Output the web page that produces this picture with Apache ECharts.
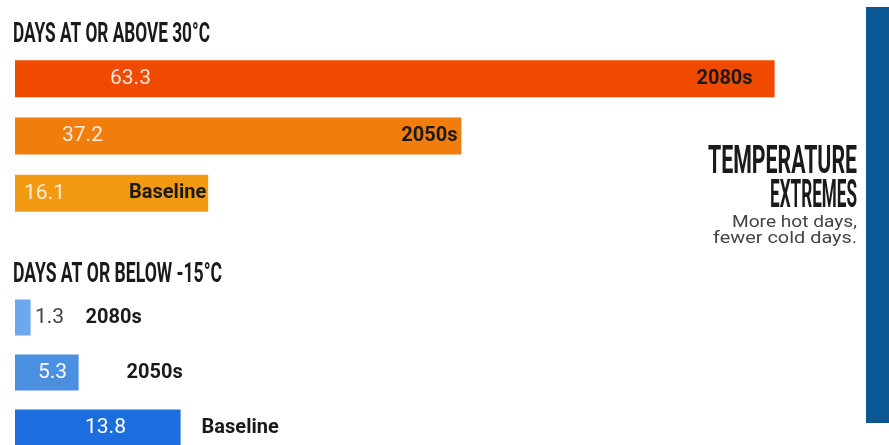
<!DOCTYPE html>
<html>
<head>
<meta charset="utf-8">
<script src="https://cdn.jsdelivr.net/npm/echarts@6/dist/echarts.min.js"></script>
<style>
  html, body { margin: 0; padding: 0; background: #ffffff; }
  #chart { width: 889px; height: 445px; }
</style>
</head>
<body>
<div id="chart"></div>
<script>
// Periods, top to bottom
const periods = ['2080s', '2050s', 'Baseline'];
// Days per year at or above 30°C
const hotDays = [63.3, 37.2, 16.1];
// Days per year at or below -15°C
const coldDays = [1.3, 5.3, 13.8];

const hotColors = ['#ef4a00', '#f07d0c', '#f29b12'];
const coldColors = ['#6ca8ee', '#4b8fe0', '#1c6edf'];

// value label x-position inside each bar (px from the bar's left edge)
const hotValueX = [95, 47, 9];
const coldValueX = [20, 23, 70];
const coldValueColor = ['#444444', '#ffffff', '#ffffff'];
// inset of the period name from the end of each hot bar
const hotNameInset = [22, 4, 2];
// gap between bar end and period name for the short cold bars
const coldNameGap = [55, 48, 21];

const chart = echarts.init(document.getElementById('chart'), null, { renderer: 'canvas' });

// measure text so condensed headline type can be squeezed to a set width
const measureCtx = document.createElement('canvas').getContext('2d');
function textWidth(text, font) {
  measureCtx.font = font;
  return measureCtx.measureText(text).width;
}

// headline in a narrow display style: bold Roboto compressed horizontally
function headline(text, x, y, size, width, align) {
  const w = textWidth(text, 'bold ' + size + 'px Roboto');
  return {
    type: 'text', x: x, y: y, scaleX: width / w, silent: true,
    style: {
      text: text, fill: '#1a1a1a', font: 'bold ' + size + 'px Roboto',
      align: align || 'left', verticalAlign: 'top'
    }
  };
}

function bodyLine(text, x, y, size, width) {
  const w = textWidth(text, size + 'px Roboto');
  return {
    type: 'text', x: x, y: y, scaleX: width / w, silent: true,
    style: { text: text, fill: '#444444', font: size + 'px Roboto', align: 'right', verticalAlign: 'top' }
  };
}

const valueFont = { fontFamily: 'Roboto', fontSize: 21, fontWeight: 'normal' };
const nameFont = { fontFamily: 'Roboto', fontSize: 20, fontWeight: 'bold', color: '#1a1a1a' };

function valueItems(values, colors, xs, labelColors) {
  return values.map((v, i) => ({
    value: v,
    itemStyle: { color: colors[i] },
    label: Object.assign({
      show: true,
      position: [xs[i], '50%'],
      align: 'left',
      verticalAlign: 'middle',
      color: labelColors ? labelColors[i] : 'rgba(255,255,255,0.85)',
      formatter: '{c}'
    }, valueFont)
  }));
}

const option = {
  backgroundColor: '#ffffff',
  animation: false,
  graphic: [
    { type: 'rect', shape: { x: 866, y: 7, width: 23, height: 416 }, style: { fill: '#0b5794' }, silent: true },
    headline('DAYS AT OR ABOVE 30°C', 13, 21, 28, 197, 'left'),
    headline('DAYS AT OR BELOW -15°C', 13, 261, 28, 209, 'left'),
    headline('TEMPERATURE', 857, 144, 38, 149, 'right'),
    headline('EXTREMES', 857, 178, 38, 87, 'right'),
    bodyLine('More hot days,', 857, 214, 17, 125),
    bodyLine('fewer cold days.', 857, 230, 17, 144)
  ],
  grid: [
    { left: 15, top: 50, width: 840, height: 172, outerBoundsMode: 'none' },
    { left: 15, top: 290, width: 840, height: 165, outerBoundsMode: 'none' }
  ],
  xAxis: [
    { type: 'value', gridIndex: 0, min: 0, max: 70, show: false },
    { type: 'value', gridIndex: 1, min: 0, max: 70, show: false }
  ],
  yAxis: [
    { type: 'category', gridIndex: 0, data: periods, inverse: true, show: false },
    { type: 'category', gridIndex: 1, data: periods, inverse: true, show: false }
  ],
  series: [
    {
      type: 'bar', xAxisIndex: 0, yAxisIndex: 0, barWidth: 37,
      data: valueItems(hotDays, hotColors, hotValueX)
    },
    {
      // period names, right-aligned inside the hot bars
      type: 'bar', xAxisIndex: 0, yAxisIndex: 0, barWidth: 37, barGap: '-100%', silent: true,
      itemStyle: { color: 'rgba(0,0,0,0)' },
      data: hotDays.map((v, i) => ({
        value: v,
        label: Object.assign({ show: true, position: 'insideRight', distance: hotNameInset[i],
          formatter: periods[i] }, nameFont)
      }))
    },
    {
      type: 'bar', xAxisIndex: 1, yAxisIndex: 1, barWidth: 36,
      data: valueItems(coldDays, coldColors, coldValueX, coldValueColor)
    },
    {
      // period names placed after the short cold bars
      type: 'bar', xAxisIndex: 1, yAxisIndex: 1, barWidth: 36, barGap: '-100%', silent: true,
      itemStyle: { color: 'rgba(0,0,0,0)' },
      data: coldDays.map((v, i) => ({
        value: v,
        label: Object.assign({ show: true, position: 'right', distance: coldNameGap[i],
          formatter: periods[i] }, nameFont)
      }))
    }
  ]
};

chart.setOption(option);
</script>
</body>
</html>
